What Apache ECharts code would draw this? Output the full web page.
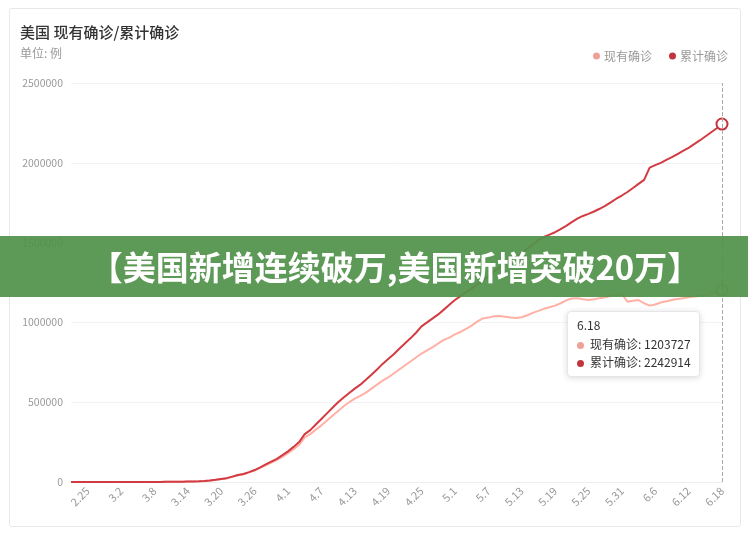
<!DOCTYPE html>
<html>
<head>
<meta charset="utf-8">
<script src="https://cdn.jsdelivr.net/npm/echarts@6/dist/echarts.min.js"></script>
<style>
html,body{margin:0;padding:0;background:#fff;}
#c{width:748px;height:535px;}
</style>
</head>
<body>
<div id="c"></div>
<script>
// Categories: daily dates 2.22 .. 6.18
var monthSpec = [[2, 22, 29], [3, 1, 31], [4, 1, 30], [5, 1, 31], [6, 1, 18]];
var dates = [];
monthSpec.forEach(function (m) { for (var d = m[1]; d <= m[2]; d++) dates.push(m[0] + '.' + d); });

// 现有确诊 (active cases)
var activeFeb = [28, 28, 45, 45, 50, 51, 53, 57];
var activeMar = [63, 84, 103, 132, 195, 290, 400, 500, 655, 936, 1230, 1610, 2150, 2820, 3530, 4480, 6200, 8980, 13400, 18900, 23600, 32700, 42500, 48500, 60000, 72000, 88000, 105000, 122000, 138000, 158000];
var activeApr = [180000, 205000, 232000, 280000, 300000, 328000, 355000, 385000, 415000, 445000, 475000, 500000, 522000, 540000, 560000, 585000, 610000, 635000, 655000, 680000, 705000, 730000, 755000, 780000, 805000, 825000, 845000, 868000, 890000, 905000];
var activeMay = [925000, 940000, 960000, 980000, 1005000, 1025000, 1030000, 1038000, 1040000, 1035000, 1030000, 1028000, 1032000, 1045000, 1060000, 1072000, 1085000, 1095000, 1105000, 1120000, 1138000, 1150000, 1152000, 1145000, 1140000, 1145000, 1152000, 1158000, 1165000, 1172000, 1178000];
var activeJun = [1130000, 1135000, 1140000, 1120000, 1105000, 1112000, 1125000, 1132000, 1140000, 1146000, 1152000, 1158000, 1162000, 1166000, 1172000, 1180000, 1192000, 1203727];

// 累计确诊 (cumulative cases)
var totalFeb = [35, 35, 53, 53, 59, 60, 62, 68];
var totalMar = [75, 100, 124, 158, 221, 319, 435, 541, 704, 994, 1301, 1697, 2247, 2943, 3680, 4663, 6411, 9259, 13789, 19383, 24207, 33566, 43667, 50000, 62000, 75000, 92000, 110000, 128000, 145000, 168000];
var totalApr = [192000, 220000, 250000, 300000, 325000, 360000, 395000, 430000, 465000, 500000, 530000, 558000, 585000, 610000, 640000, 672000, 705000, 740000, 770000, 800000, 835000, 868000, 900000, 935000, 975000, 1000000, 1025000, 1050000, 1080000, 1110000];
var totalMay = [1140000, 1165000, 1190000, 1212000, 1237000, 1262000, 1290000, 1318000, 1345000, 1368000, 1388000, 1410000, 1435000, 1462000, 1490000, 1515000, 1535000, 1550000, 1565000, 1585000, 1605000, 1628000, 1650000, 1667000, 1680000, 1695000, 1712000, 1730000, 1752000, 1775000, 1795000];
var totalJun = [1817000, 1842000, 1868000, 1893000, 1970000, 1985000, 2000000, 2018000, 2035000, 2055000, 2075000, 2094000, 2117000, 2140000, 2165000, 2190000, 2215000, 2242914];

var activeCases = [].concat(activeFeb, activeMar, activeApr, activeMay, activeJun);
var totalCases = [].concat(totalFeb, totalMar, totalApr, totalMay, totalJun);

var seriesNames = ['现有确诊', '累计确诊'];
var titleText = '美国 现有确诊/累计确诊';
var subText = '单位: 例';
var bannerText = '【美国新增连续破万,美国新增突破20万】';

var FONT = '"Noto Sans CJK SC", "Noto Sans", sans-serif';
var C_ACTIVE = '#f0a197';
var C_TOTAL = '#c0363c';

var chart = echarts.init(document.getElementById('c'), null, { renderer: 'canvas' });
var last = dates.length - 1;

chart.setOption({
  animation: false,
  textStyle: { fontFamily: FONT },
  color: [C_ACTIVE, C_TOTAL],
  title: {
    text: titleText,
    subtext: subText,
    left: 15,
    top: 20,
    itemGap: 7,
    textStyle: { fontFamily: FONT, fontSize: 15, fontWeight: 500, color: '#333' },
    subtextStyle: { fontFamily: FONT, fontSize: 12, color: '#999' }
  },
  legend: {
    data: seriesNames,
    right: 15,
    top: 45,
    icon: 'circle',
    itemWidth: 7,
    itemHeight: 7,
    itemGap: 17,
    textStyle: { fontFamily: FONT, fontSize: 12, color: '#999', padding: [0, 0, 0, -1] }
  },
  grid: { left: 71, right: 26, top: 83, bottom: 53, containLabel: false },
  tooltip: {
    trigger: 'axis',
    alwaysShowContent: true,
    transitionDuration: 0,
    backgroundColor: '#fff',
    borderColor: '#e6e6e6',
    borderWidth: 1,
    padding: [4, 8, 4, 9],
    extraCssText: 'box-shadow:0 1px 6px rgba(0,0,0,0.15);border-radius:4px;',
    textStyle: { fontFamily: FONT, fontSize: 12, color: '#333' },
    axisPointer: { type: 'line', lineStyle: { color: '#aaa', type: 'dashed', width: 1 } },
    position: function () { return [567, 311]; },
    formatter: function (params) {
      var s = '<div style="line-height:18.5px;font-size:12px;font-family:' + FONT.replace(/"/g, "'") + '">' + params[0].axisValue;
      params.forEach(function (p) {
        s += '<br/><span style="display:inline-block;width:7px;height:7px;border-radius:4px;background:' + p.color + ';margin-right:6px;vertical-align:0px;"></span>' + p.seriesName + ': ' + p.value;
      });
      return s + '</div>';
    }
  },
  xAxis: {
    type: 'category',
    data: dates,
    boundaryGap: false,
    axisLine: { lineStyle: { color: '#eee' } },
    axisTick: { show: false },
    axisLabel: {
      interval: function (i) { return (last - i) % 6 === 0; },
      rotate: 45,
      margin: 7,
      color: '#999',
      fontSize: 11,
      fontFamily: FONT
    },
    splitLine: { show: false }
  },
  yAxis: {
    type: 'value',
    min: 0,
    max: 2500000,
    interval: 500000,
    axisLine: { show: false },
    axisTick: { show: false },
    axisLabel: {
      color: '#999', fontSize: 10.5, margin: 8, fontFamily: FONT,
      formatter: function (v) { return String(v); }
    },
    splitLine: { lineStyle: { color: '#f3f3f3' } }
  },
  series: [
    {
      name: seriesNames[0],
      type: 'line',
      data: activeCases,
      showSymbol: false,
      symbol: 'emptyCircle',
      symbolSize: 10,
      lineStyle: { width: 2, color: C_ACTIVE },
      itemStyle: { color: C_ACTIVE }
    },
    {
      name: seriesNames[1],
      type: 'line',
      data: totalCases,
      showSymbol: false,
      symbol: 'emptyCircle',
      symbolSize: 10,
      lineStyle: { width: 2, color: C_TOTAL },
      itemStyle: { color: C_TOTAL }
    }
  ],
  graphic: [
    {
      type: 'rect',
      z: -10,
      shape: { x: 9.5, y: 8.5, width: 731, height: 518, r: 2 },
      style: { fill: 'none', stroke: '#e8e8e8', lineWidth: 1 }
    },
    {
      type: 'rect',
      z: 100,
      shape: { x: 0, y: 236, width: 748, height: 61 },
      style: { fill: 'rgba(82,146,74,0.93)' }
    },
    {
      type: 'text',
      z: 101,
      x: 395,
      y: 267,
      style: {
        text: bannerText,
        fill: '#fff',
        font: 'bold 33px "Noto Sans CJK SC", sans-serif',
        textAlign: 'center',
        textVerticalAlign: 'middle'
      }
    }
  ]
});

chart.dispatchAction({ type: 'showTip', seriesIndex: 0, dataIndex: last });
</script>
</body>
</html>
